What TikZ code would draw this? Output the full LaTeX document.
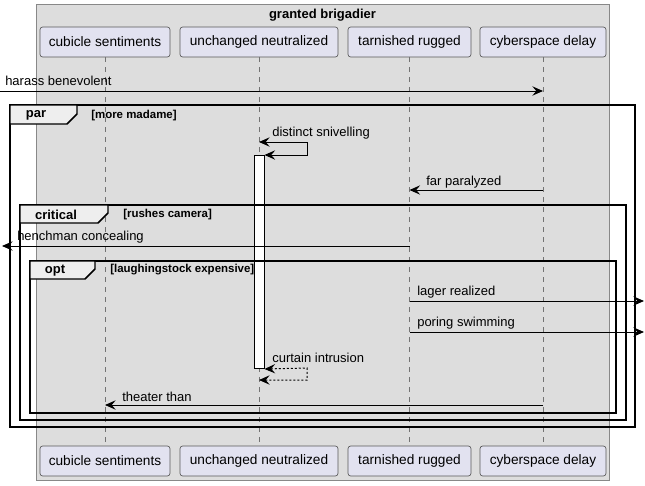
\documentclass[tikz,border=0pt]{standalone}
\usepackage{fontspec}
\setmainfont{Liberation Sans}
\usepackage{xcolor}
\usepackage{tikz}
\usetikzlibrary{arrows.meta,positioning,calc}
\definecolor{BoxGray}{RGB}{221,221,221}
\definecolor{BoxEdge}{RGB}{136,136,136}
\definecolor{PartFill}{RGB}{226,226,240}
\definecolor{TabFill}{RGB}{238,238,238}

\begin{document}
\begin{tikzpicture}[
    x=0.75pt, y=-0.75pt,
    part/.style={rounded corners=2pt, draw=black!65, line width=0.5pt, fill=PartFill, minimum height=22.5pt, inner sep=0pt, align=center, font=\fontsize{10.25}{12}\selectfont},
    lifeline/.style={draw=black!55, line width=0.5pt, dash pattern=on 3.75pt off 3.75pt},
    msg/.style={-{Stealth[length=8pt, width=7pt, inset=3pt]}, line width=0.75pt, draw=black},
    selfmsg/.style={{Stealth[length=8pt, width=7pt, inset=3pt]}-{Stealth[length=8pt, width=7pt, inset=3pt]}, line width=0.75pt, draw=black},
    lbl/.style={anchor=west, inner sep=0pt, font=\fontsize{9.75}{11}\selectfont},
    grpframe/.style={draw=black, line width=1.1pt},
    grptab/.style={draw=black, line width=1.1pt, fill=TabFill},
    grpname/.style={inner sep=0pt, font=\fontsize{9.75}{11}\selectfont\bfseries},
    grpguard/.style={anchor=west, inner sep=0pt, font=\fontsize{8.6}{10}\selectfont\bfseries}
  ]
    \useasboundingbox (0,0) rectangle (645,485);
    % box round the participants
    \draw[fill=BoxGray, draw=BoxEdge, line width=0.75pt] (36,5) rectangle (609,480);
    \node[font=\fontsize{9.75}{11}\selectfont\bfseries, inner sep=0pt] (boxtitle) at (322.5,15) {granted brigadier};
    % participants
    \node[part, minimum width=97.5pt] (cubT) at (105,42) {cubicle sentiments};
    \node[part, minimum width=118.5pt] (uncT) at (259,42) {unchanged neutralized};
    \node[part, minimum width=92.25pt] (tarT) at (409.5,42) {tarnished rugged};
    \node[part, minimum width=94.5pt] (cybT) at (543,42) {cyberspace delay};
    \node[part, minimum width=97.5pt] (cubB) at (105,461) {cubicle sentiments};
    \node[part, minimum width=118.5pt] (uncB) at (259,461) {unchanged neutralized};
    \node[part, minimum width=92.25pt] (tarB) at (409.5,461) {tarnished rugged};
    \node[part, minimum width=94.5pt] (cybB) at (543,461) {cyberspace delay};
    \draw[lifeline] (cubT) -- (cubB);
    \draw[lifeline] (uncT) -- (uncB);
    \draw[lifeline] (tarT) -- (tarB);
    \draw[lifeline] (cybT) -- (cybB);
    % activation
    \node[draw=black, line width=0.75pt, fill=white, minimum width=7.5pt, minimum height=159.75pt, inner sep=0pt, anchor=north] (actU) at (259,155) {};
    % groups
    \draw[grpframe] (10,105) rectangle (635,427);
    \draw[grptab] (10,105) -- (77,105) -- (77,114) -- (67,124) -- (10,124) -- cycle;
    \node[grpname] (parL) at (36,115) {par};
    \node[grpguard] (parG) at (91,116) {[more madame]};
    \draw[grpframe] (20,205) rectangle (626,420);
    \draw[grptab] (20,205) -- (108,205) -- (108,213) -- (98,223) -- (20,223) -- cycle;
    \node[grpname] (critL) at (56,215) {critical};
    \node[grpguard] (critG) at (123,215) {[rushes camera]};
    \draw[grpframe] (30,261) rectangle (616,413);
    \draw[grptab] (30,261) -- (95,261) -- (95,269) -- (85,279) -- (30,279) -- cycle;
    \node[grpname] (optL) at (55,271) {opt};
    \node[grpguard] (optG) at (110,270) {[laughingstock expensive]};
    % messages
    \coordinate (harassIn) at (0,91);
    \draw[msg] (harassIn) -- (harassIn -| cybT);
    \node[lbl] (harassL) at (5,81) {harass benevolent};
    \draw[selfmsg] (uncT |- 0,142) -- (307,142) -- (307,155) -- (actU.north east);
    \node[lbl] (distinctL) at (272,133) {distinct snivelling};
    \draw[msg] (cybT |- 0,190) -- (tarT |- 0,190);
    \node[lbl] (farL) at (426,182) {far paralyzed};
    \coordinate (henchOut) at (2,246);
    \draw[msg] (tarT |- henchOut) -- (henchOut);
    \node[lbl] (henchL) at (17,237) {henchman concealing};
    \coordinate (lagerOut) at (644,301);
    \draw[msg] (tarT |- lagerOut) -- (lagerOut);
    \node[lbl] (lagerL) at (417,292) {lager realized};
    \coordinate (poringOut) at (644,332);
    \draw[msg] (tarT |- poringOut) -- (poringOut);
    \node[lbl] (poringL) at (417,323) {poring swimming};
    \draw[selfmsg, dash pattern=on 1.5pt off 1.5pt] (actU.south east) -- (307,368) -- (307,380) -- (uncT |- 0,380);
    \node[lbl] (curtainL) at (272,358) {curtain intrusion};
    \draw[msg] (cybT |- 0,405) -- (cubT |- 0,405);
    \node[lbl] (theaterL) at (122,397) {theater than};
  \end{tikzpicture}
\end{document}
